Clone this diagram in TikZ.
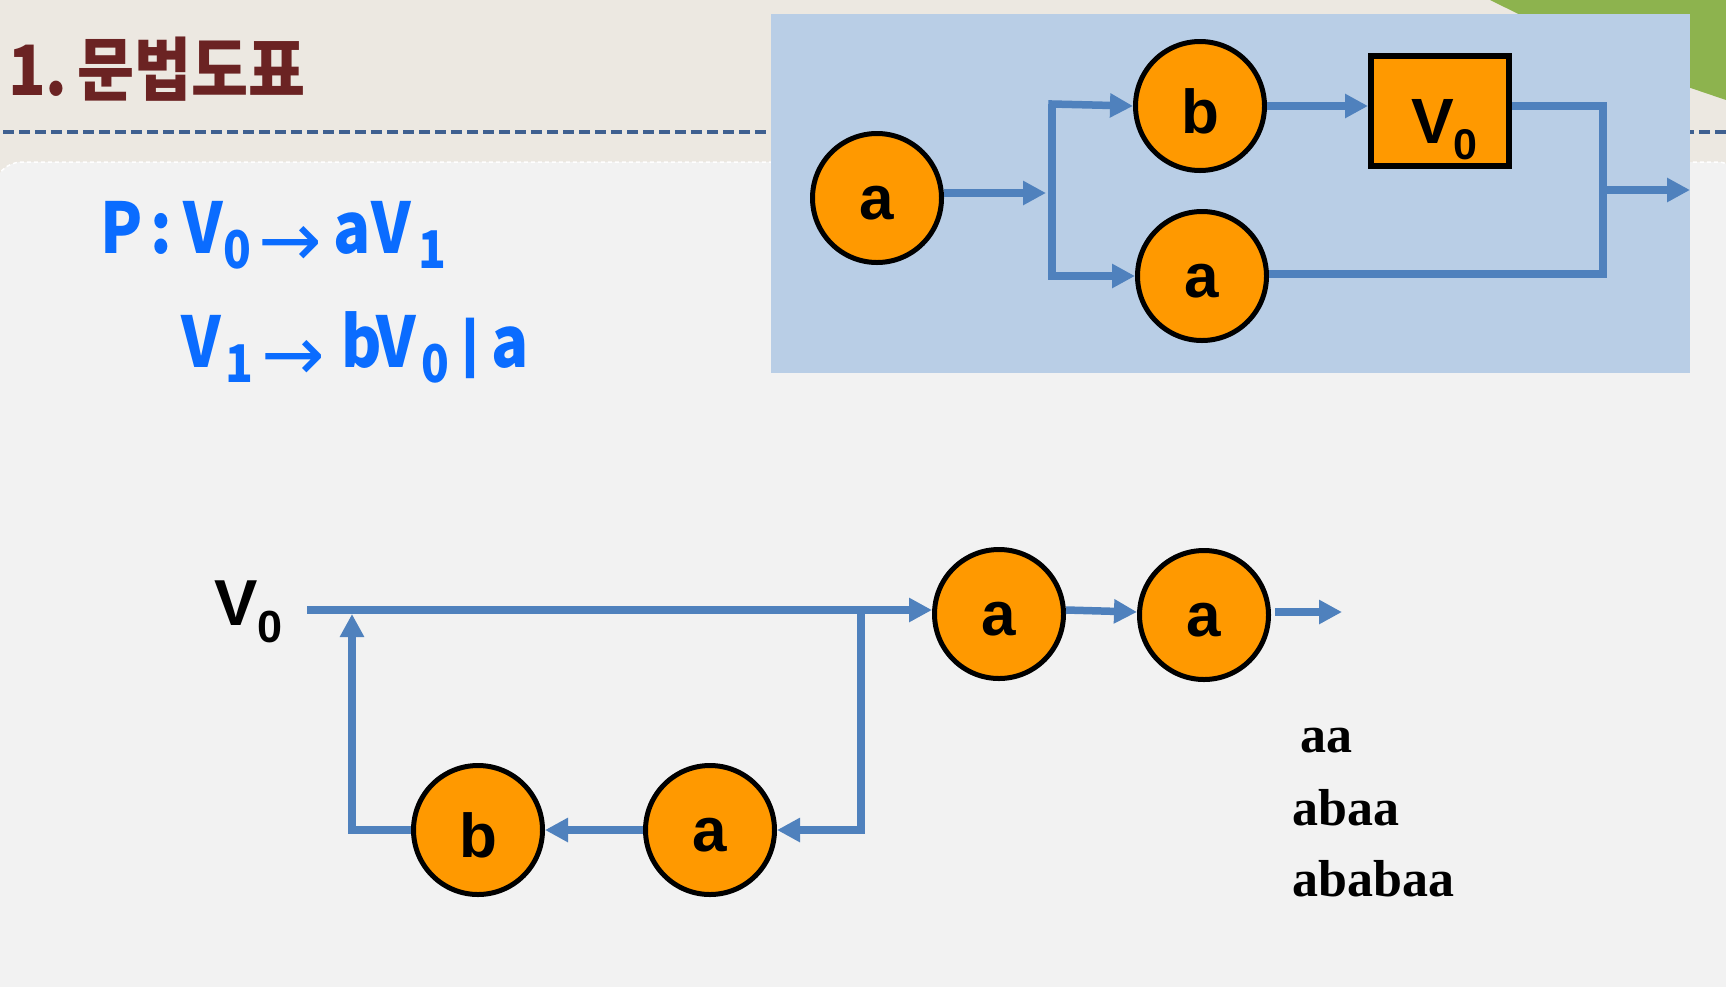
\documentclass[tikz,border=0pt]{standalone}
\usepackage{fontspec}
\usepackage{graphicx}
\setmainfont{Liberation Sans}
\newfontfamily\kr{Noto Sans CJK KR}
\newfontfamily\tnr{Liberation Serif}
\newfontfamily\dvs{DejaVu Sans}
\usetikzlibrary{arrows.meta}
\definecolor{hdr}{HTML}{ECE8E1}
\definecolor{bodybg}{HTML}{F2F2F2}
\definecolor{grn}{HTML}{8DB34E}
\definecolor{boxbl}{HTML}{B9CEE6}
\definecolor{ln}{HTML}{4F81BD}
\definecolor{org}{HTML}{FF9900}
\definecolor{ttl}{HTML}{6B2323}
\definecolor{fblue}{HTML}{0A6CFF}
\definecolor{dashc}{HTML}{3F6090}
\newcommand{\fs}[1]{\fontsize{#1}{#1}\selectfont}
\newcommand{\nx}[1]{\scalebox{0.88}[1]{#1}}
\newcommand{\sub}[1]{\raisebox{-15pt}{\fs{52}\nx{#1}}}
\newcommand{\farr}{\raisebox{-13pt}{\dvs\mdseries\fs{76}→}}
\begin{document}
\begin{tikzpicture}[x=1pt,y=-1pt,
  circ/.style={circle, draw=black, line width=5pt, fill=org, minimum size=129pt,
    inner sep=0pt, text height=43pt, text depth=0pt, font=\bfseries\fs{62}},
  circb/.style={circ, text height=54pt},
  conn/.style={draw=ln, line width=7.5pt, line join=miter},
  arr/.style={conn, -{Triangle[length=23pt,width=23pt]}},
  formula/.style={anchor=base west, inner sep=0pt, text=fblue, font=\kr\bfseries\fs{70}},
  result/.style={anchor=base west, inner sep=0pt, font=\tnr\bfseries\fs{52}},
  vlabel/.style={anchor=base west, inner sep=0pt, font=\bfseries\fs{65}}]
\useasboundingbox (0,0) rectangle (1726,986);
% backgrounds
\fill[hdr] (0,0) rectangle (1726,220);
\fill[grn] (1490,0) -- (1726,0) -- (1726,100) -- (1620,64) -- cycle;
\draw[dashc, line width=4pt, dash pattern=on 11pt off 5pt] (3,132) -- (1726,132);
\draw[white, line width=1.5pt, dash pattern=on 4pt off 3pt, fill=bodybg, rounded corners=28pt]
  (-6,162) rectangle (1745,1020);
% title
\node[anchor=base west, inner sep=0pt, text=ttl, font=\kr\bfseries\fs{62}] (title) at (8,95) {\scalebox{1}[1.12]{1.\kern10pt 문법도표}};
% formulas
\node[formula] (f1) at (100,253) {\makebox[50pt][l]{\nx{P}}\makebox[33pt][l]{\nx{:}}\makebox[40pt][l]{\nx{V}}\makebox[35pt][l]{\sub{0}}\makebox[75pt][l]{\farr}\makebox[38pt][l]{\nx{a}}\makebox[47pt][l]{\nx{V}}\sub{1}};
\node[formula] (f2) at (181,367) {\makebox[44pt][l]{\nx{V}}\makebox[36pt][l]{\sub{1}}\makebox[80pt][l]{\farr}\makebox[35pt][l]{\nx{b}}\makebox[45pt][l]{\nx{V}}\makebox[40pt][l]{\sub{0}}\makebox[30pt][l]{\raisebox{3pt}{\fontspec{Liberation Sans}\bfseries\fs{64}|}}\nx{a}};
% top diagram
\fill[boxbl] (771,14) rectangle (1690,373);
\node[circ] (a1) at (877,198) {a};
\node[circb] (b1) at (1200,106) {b};
\node[circ] (a2) at (1202,276) {a};
\node[draw=black, line width=6pt, fill=org, minimum width=138pt, minimum height=110pt, inner sep=0pt] (v0box) at (1440,111) {};
\node[vlabel, font=\bfseries\fs{64}] (v0t) at (1411,143) {V\raisebox{-16pt}{\fs{43}0}};
\coordinate (jin) at (1046,193);
\coordinate (jt) at (1052,104);
\coordinate (jb) at (1052,276);
\coordinate (r1) at (1603,106);
\coordinate (r2) at (1603,274);
\coordinate (o1) at (1607,190);
\coordinate (o2) at (1690,190);
\draw[arr] (a1.east |- jin) -- (jin);
\draw[arr] (jb) -- (jt) -- (b1.west);
\draw[arr] (jt) -- (jb) -- (a2.west);
\draw[arr] (b1.east) -- (b1.east -| v0box.west);
\draw[conn] (b1.east -| v0box.east) -- (r1) -- (r2) -- (r2 -| a2.east);
\draw[arr] (o1) -- (o2);
% bottom diagram
\node[vlabel] (v0b) at (214,625) {V\raisebox{-17pt}{\fs{45}0}};
\node[circ] (a3) at (999,614) {a};
\node[circ] (a4) at (1204,615) {a};
\node[circ] (a5) at (710,830) {a};
\node[circb] (b2) at (478,830) {b};
\coordinate (s) at (307,610);
\coordinate (d1) at (861,610);
\coordinate (d2) at (861,830);
\coordinate (u1) at (352,830);
\coordinate (u2) at (352,614);
\coordinate (bo1) at (1275,612);
\coordinate (bo2) at (1342,612);
\draw[arr] (s) -- (s -| a3.west);
\draw[arr] (d1) -- (d2) -- (a5.east);
\draw[arr] (a5.west) -- (b2.east);
\draw[arr] (b2.west) -- (u1) -- (u2);
\draw[arr] (a3.east |- s) -- (a4.west |- bo1);
\draw[arr] (bo1) -- (bo2);
% results
\node[result] (r_aa) at (1300,752) {aa};
\node[result] (r_abaa) at (1292,825) {abaa};
\node[result] (r_ababaa) at (1292,896) {ababaa};
\end{tikzpicture}
\end{document}
